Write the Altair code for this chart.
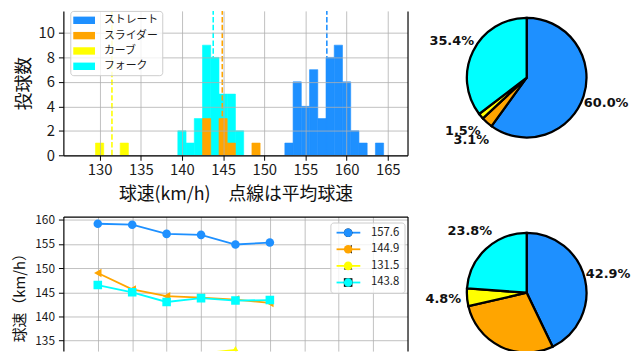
import math
import altair as alt
import pandas as pd

# ---------------- data ----------------
pitch_types = ["ストレート", "スライダー", "カーブ", "フォーク"]
pitch_colors = ["#1E90FF", "#FFA500", "#FFFF00", "#00FFFF"]

# histogram: bin centres (km/h) and pitch counts
straight_bins = [153, 154, 155, 156, 157, 158, 159, 160, 161, 162, 164]
straight_counts = [1, 6, 4, 7, 3, 8, 9, 6, 2, 1, 1]
slider_bins = [143, 145, 146, 149]
slider_counts = [3, 3, 1, 1]
curve_bins = [130, 133]
curve_counts = [1, 1]
fork_bins = [140, 141, 142, 143, 144, 145, 146, 147]
fork_counts = [2, 1, 3, 9, 8, 5, 5, 2]

mean_speeds = [157.6, 144.9, 131.5, 143.8]

# pie charts (pitch counts)
pie_top_counts = [39, 2, 1, 23]
pie_bottom_counts = [9, 6, 1, 5]

# speed per inning
innings = [1, 2, 3, 4, 5, 6]
straight_line = [159.2, 159.0, 157.1, 156.9, 154.9, 155.3]
slider_line = [149.0, 145.6, 144.2, 143.9, 143.5, 142.8]
curve_innings = [1, 5]
curve_line = [129.9, 133.1]
fork_line = [146.5, 145.0, 143.0, 143.8, 143.3, 143.4]
line_labels = ["157.6", "144.9", "131.5", "143.8"]
line_shapes = ["circle", "triangle-left", "triangle-up", "square"]

JP = "Noto Sans CJK JP"

# ---------------- tables ----------------
rows = []
for name, bins, counts in [
    (pitch_types[0], straight_bins, straight_counts),
    (pitch_types[3], fork_bins, fork_counts),
    (pitch_types[2], curve_bins, curve_counts),
    (pitch_types[1], slider_bins, slider_counts),
]:
    for b, c in zip(bins, counts):
        rows.append({"pitch": name, "lo": b - 0.5, "hi": b + 0.5, "count": c})
hist_df = pd.DataFrame(rows)
mean_df = pd.DataFrame({"pitch": pitch_types, "mean": mean_speeds})

PIE_R = 60.5
LABEL_R = 84.5


def pie_table(counts):
    df = pd.DataFrame({"pitch": pitch_types, "n": counts, "k": range(len(counts))})
    total = df["n"].sum()
    df["label"] = (df["n"] / total * 100).map(lambda v: f"{v:.1f}%")
    df["mid"] = (df["n"].cumsum() - df["n"] / 2) / total
    return df


line_rows = []
for lab, xs, ys in zip(line_labels, [innings, innings, curve_innings, innings],
                       [straight_line, slider_line, curve_line, fork_line]):
    for x, y in zip(xs, ys):
        line_rows.append({"s": lab, "s2": lab, "x": x, "y": y})
line_df = pd.DataFrame(line_rows)

# ---------------- histogram ----------------
color_scale = alt.Scale(domain=pitch_types, range=pitch_colors)
HX = alt.Scale(domain=[125.6, 167.4], nice=False, zero=False)
HY = alt.Scale(domain=[0, 11.8], nice=False)

hist_x_axis = alt.Axis(values=[130, 135, 140, 145, 150, 155, 160, 165],
                       title="球速(km/h)　点線は平均球速", titleFontSize=18,
                       titleY=39.5, titleBaseline="middle",
                       labelFontSize=15, labelPadding=2, tickSize=5, zindex=1,
                       grid=True)

bars = alt.Chart(hist_df).mark_bar(opacity=1, clip=True, strokeWidth=0.6).encode(
    x=alt.X("lo:Q", scale=HX, axis=hist_x_axis),
    x2="hi:Q",
    y=alt.Y("count:Q", stack=False, scale=HY,
            axis=alt.Axis(values=[0, 2, 4, 6, 8, 10], title="投球数",
                          titleFontSize=18, titleX=-39, titleY=73,
                          titleBaseline="middle", labelFontSize=15,
                          labelPadding=4, tickSize=5, zindex=1, grid=True)),
    y2=alt.datum(0),
    color=alt.Color("pitch:N", scale=color_scale,
                    legend=alt.Legend(orient="none", legendX=7, legendY=0,
                                      title=None,
                                      symbolType="M-2,-0.68H2V0.68H-2Z",
                                      symbolSize=121, symbolStrokeWidth=0,
                                      symbolOffset=4.5, labelOffset=14.5,
                                      padding=4, rowPadding=3.5,
                                      labelFont=JP, labelFontSize=11,
                                      fillColor="rgba(255,255,255,0.8)",
                                      strokeColor="#cccccc", cornerRadius=3,
                                      zindex=2)),
    stroke=alt.Stroke("pitch:N", scale=color_scale, legend=None),
)

rules = alt.Chart(mean_df).mark_rule(strokeDash=[5.5, 2.4], strokeWidth=1.6,
                                     clip=True).encode(
    x=alt.X("mean:Q", scale=HX, axis=hist_x_axis),
    y=alt.YDatum(0, scale=HY,
                 axis=alt.Axis(orient="right", labels=False, ticks=False,
                               grid=False, title=None, zindex=1)),
    y2=alt.datum(12),
    color=alt.Color("pitch:N", scale=color_scale, legend=None),
)

hist = alt.layer(bars, rules).resolve_scale(y="independent").properties(
    width=348, height=146)

# ---------------- pies ----------------
PIE_W = 221
PIE_CX = 115.5


def pie(counts, height, cy):
    df = pie_table(counts)
    # keep only the labels that land inside the panel
    ly = cy - LABEL_R * df["mid"].map(lambda m: math.cos(2 * math.pi * m))
    tdf = df[(ly + 8) <= height]
    arc = alt.Chart(df).mark_arc(outerRadius=PIE_R, stroke="black",
                                 strokeWidth=2.3, clip=True).encode(
        theta=alt.Theta("n:Q", stack=True),
        order=alt.Order("k:Q"),
        color=alt.Color("pitch:N", scale=color_scale, legend=None),
        x=alt.value(PIE_CX), y=alt.value(cy),
    )
    txt = alt.Chart(tdf).mark_text(radius=LABEL_R, font="DejaVu Sans",
                                   fontWeight="bold", fontSize=13,
                                   color="#111111").encode(
        theta=alt.Theta("mid:Q", stack=False,
                        scale=alt.Scale(domain=[0, 1], range=[0, 2 * math.pi])),
        text="label:N",
        x=alt.value(PIE_CX), y=alt.value(cy),
    )
    return alt.layer(arc, txt).resolve_scale(theta="independent").properties(
        width=PIE_W, height=height)


pie1 = pie(pie_top_counts, 146, 67.5)
pie2 = pie(pie_bottom_counts, 136, 77)

# ---------------- line chart ----------------
LX = alt.Scale(domain=[0, 10], nice=False)
LY = alt.Scale(domain=[132.83, 160.68], nice=False, zero=False)
x_top_axis = alt.Axis(orient="top", labels=False, ticks=False, grid=True,
                      values=[1, 2, 3, 4, 5, 6, 7, 8, 9], title=None)

lines = alt.Chart(line_df).mark_line(strokeWidth=1.8, clip=True).encode(
    x=alt.X("x:Q", scale=LX, axis=x_top_axis),
    y=alt.Y("y:Q", scale=LY,
            axis=alt.Axis(values=[135, 140, 145, 150, 155, 160],
                          title="球速（km/h）", titleFontSize=15,
                          titleX=-44.5, titleY=78, titleBaseline="middle",
                          labelFontSize=12, labelPadding=4, tickSize=5,
                          grid=True)),
    color=alt.Color("s:N", scale=alt.Scale(domain=line_labels, range=pitch_colors),
                    legend=alt.Legend(orient="none", legendX=270, legendY=6,
                                      title=None, symbolType="M-4,0H4",
                                      symbolSize=36, symbolStrokeWidth=1.8,
                                      symbolOffset=8, labelOffset=17,
                                      padding=4.5, rowPadding=3.8,
                                      labelFont=JP, labelFontSize=11.5,
                                      fillColor="rgba(255,255,255,0.8)",
                                      strokeColor="#cccccc", cornerRadius=3,
                                      zindex=1)),
)

legend_b = alt.Legend(orient="none", legendX=270, legendY=6, title=None,
                      symbolSize=75, symbolStrokeWidth=0, symbolOffset=7.7,
                      labelOffset=17, padding=4.5, rowPadding=3.8,
                      labelFont=JP, labelFontSize=11.5, labelExpr="''", zindex=2)

points = alt.Chart(line_df).mark_point(filled=True, size=75, opacity=1,
                                       clip=True).encode(
    x=alt.X("x:Q", scale=LX, axis=x_top_axis),
    y=alt.Y("y:Q", scale=LY,
            axis=alt.Axis(orient="right", labels=False, ticks=False,
                          grid=False, title=None)),
    color=alt.Color("s2:N", scale=alt.Scale(domain=line_labels, range=pitch_colors),
                    legend=legend_b),
    shape=alt.Shape("s2:N", scale=alt.Scale(domain=line_labels, range=line_shapes),
                    legend=legend_b),
)

line_chart = alt.layer(lines, points).resolve_scale(
    y="independent", color="independent").resolve_legend(
    color="independent").properties(width=348, height=136)

# ---------------- assemble ----------------
chart = alt.concat(
    hist, pie1, line_chart, pie2,
    columns=2, spacing={"row": 62, "column": 5},
    bounds="flush", align="each",
).resolve_scale(color="independent", shape="independent").resolve_legend(
    color="independent", shape="independent"
).properties(
    padding={"left": 4, "top": 0, "right": 0, "bottom": 0}
).configure_view(stroke="transparent").configure_axis(
    labelFont=JP, titleFont=JP, titleFontWeight="normal", titleColor="#111111",
    labelColor="#1a1a1a", domainColor="black", domainWidth=1.2,
    tickColor="black", tickWidth=1, gridColor="#b0b0b0", gridWidth=0.8,
).configure_legend(labelColor="#1a1a1a")

chart.save("out.html", embed_options={"renderer": "svg", "actions": False})
